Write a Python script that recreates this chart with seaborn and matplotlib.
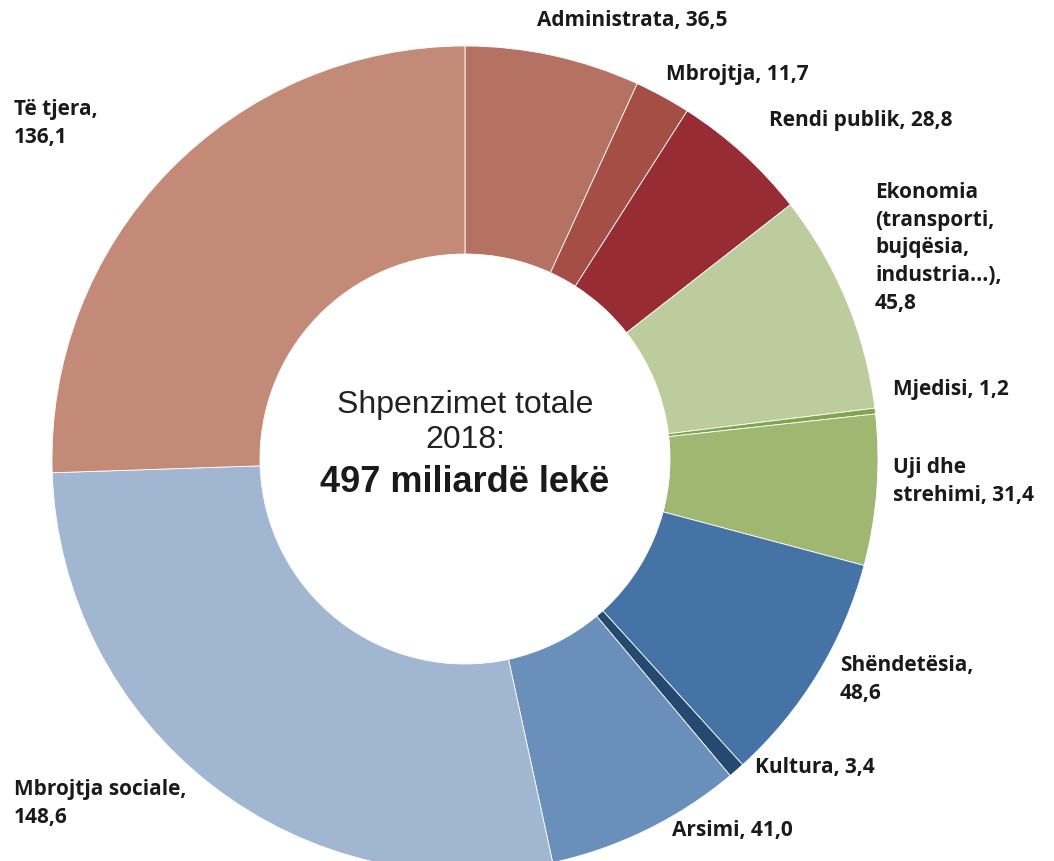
import matplotlib.pyplot as plt
import seaborn as sns

# Shpenzimet sipas funksioneve, 2018 (miliardë lekë)
categories = ["Administrata", "Mbrojtja", "Rendi publik",
              "Ekonomia (transporti, bujqësia, industria...)", "Mjedisi",
              "Uji dhe strehimi", "Shëndetësia", "Kultura", "Arsimi",
              "Mbrojtja sociale", "Të tjera"]
values = [36.5, 11.7, 28.8, 45.8, 1.2, 31.4, 48.6, 3.4, 41.0, 148.6, 136.1]
labels = ["Administrata, 36,5", "Mbrojtja, 11,7", "Rendi publik, 28,8",
          "Ekonomia\n(transporti,\nbujqësia,\nindustria...),\n45,8",
          "Mjedisi, 1,2", "Uji dhe\nstrehimi, 31,4", "Shëndetësia,\n48,6",
          "Kultura, 3,4", "Arsimi, 41,0", "Mbrojtja sociale,\n148,6",
          "Të tjera,\n136,1"]
colors = ["#B57161", "#A44E45", "#972C35", "#BDCC9C", "#80A54C", "#9FB770",
          "#4573A6", "#254A72", "#6A8FBA", "#A1B6D1", "#C38A78"]
center_lines = ["Shpenzimet totale", "2018:", "497 miliardë lekë"]

sns.set_theme(style="white")
plt.rcParams["font.family"] = ["Open Sans", "DejaVu Sans"]

W, H = 1054, 862
fig = plt.figure(figsize=(W / 100, H / 100), dpi=100)
ax = fig.add_axes([0, 0, 1, 1])

ax.pie(values, colors=sns.color_palette(colors), startangle=90, counterclock=False,
       center=(465, H - 460), radius=413, frame=True,
       wedgeprops=dict(width=208, edgecolor="white", linewidth=0.6))
ax.set_xlim(0, W)
ax.set_ylim(0, H)
ax.set_aspect("equal")
ax.axis("off")

# label positions (pixels from top-left, top of text block)
pos = [(537, 10), (666, 64), (769, 110), (875, 182), (893, 379), (893, 457),
       (840, 655), (755, 757), (672, 820), (14, 779), (14, 99)]
for lab, (x, y) in zip(labels, pos):
    ax.text(x, H - y, lab, ha="left", va="top", fontsize=15, fontweight="bold",
            color="#1a1a1a", linespacing=1.42)

arial = ["Liberation Sans", "DejaVu Sans"]
ax.text(465, H - 405, center_lines[0], ha="center", va="center", fontsize=23,
        family=arial, color="#222222")
ax.text(465, H - 440, center_lines[1], ha="center", va="center", fontsize=23,
        family=arial, color="#222222")
ax.text(465, H - 483, center_lines[2], ha="center", va="center", fontsize=26,
        fontweight="bold", family=arial, color="#1a1a1a")

fig.savefig("out.png", dpi=100, facecolor="white")
